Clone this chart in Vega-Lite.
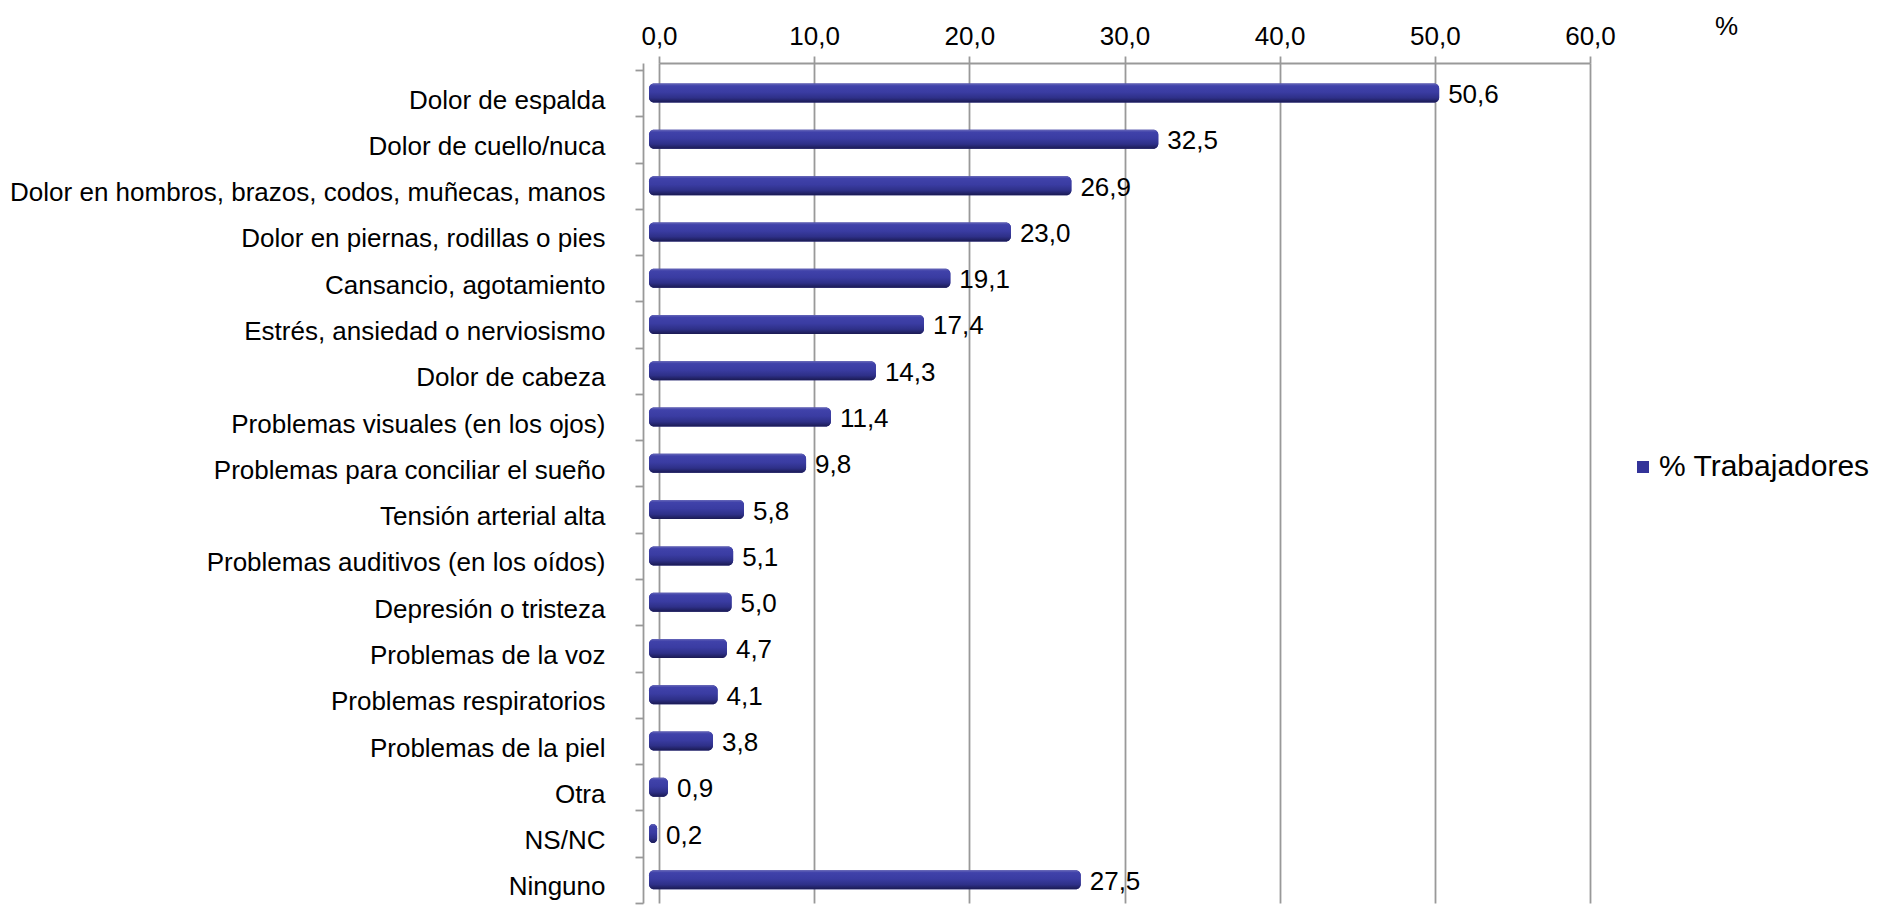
{
  "$schema": "https://vega.github.io/schema/vega-lite/v6.json",
  "width": 931,
  "height": 840,
  "autosize": {"type": "none"},
  "padding": {"left": 659, "top": 63, "right": 287, "bottom": 2},
  "background": "white",
  "config": {
    "view": {"stroke": null},
    "font": "Liberation Sans",
    "locale": {"number": {"decimal": ",", "thousands": ".", "grouping": [3], "currency": ["", " €"]}},
    "legend": {"padding": 0}
  },
  "data": {
    "values": [
      {"sintoma": "Dolor de espalda", "pct": 50.6, "serie": "% Trabajadores"},
      {"sintoma": "Dolor de cuello/nuca", "pct": 32.5, "serie": "% Trabajadores"},
      {"sintoma": "Dolor en hombros, brazos, codos, muñecas, manos", "pct": 26.9, "serie": "% Trabajadores"},
      {"sintoma": "Dolor en piernas, rodillas o pies", "pct": 23.0, "serie": "% Trabajadores"},
      {"sintoma": "Cansancio, agotamiento", "pct": 19.1, "serie": "% Trabajadores"},
      {"sintoma": "Estrés, ansiedad o nerviosismo", "pct": 17.4, "serie": "% Trabajadores"},
      {"sintoma": "Dolor de cabeza", "pct": 14.3, "serie": "% Trabajadores"},
      {"sintoma": "Problemas visuales (en los ojos)", "pct": 11.4, "serie": "% Trabajadores"},
      {"sintoma": "Problemas para conciliar el sueño", "pct": 9.8, "serie": "% Trabajadores"},
      {"sintoma": "Tensión arterial alta", "pct": 5.8, "serie": "% Trabajadores"},
      {"sintoma": "Problemas auditivos (en los oídos)", "pct": 5.1, "serie": "% Trabajadores"},
      {"sintoma": "Depresión o tristeza", "pct": 5.0, "serie": "% Trabajadores"},
      {"sintoma": "Problemas de la voz", "pct": 4.7, "serie": "% Trabajadores"},
      {"sintoma": "Problemas respiratorios", "pct": 4.1, "serie": "% Trabajadores"},
      {"sintoma": "Problemas de la piel", "pct": 3.8, "serie": "% Trabajadores"},
      {"sintoma": "Otra", "pct": 0.9, "serie": "% Trabajadores"},
      {"sintoma": "NS/NC", "pct": 0.2, "serie": "% Trabajadores"},
      {"sintoma": "Ninguno", "pct": 27.5, "serie": "% Trabajadores"}
    ]
  },
  "encoding": {
    "y": {
      "field": "sintoma",
      "type": "nominal",
      "sort": null,
      "scale": {"paddingInner": 0, "paddingOuter": 0.075, "align": 1},
      "axis": {
        "title": null,
        "offset": 16,
        "domainColor": "#999999",
        "domainWidth": 1.8,
        "tickColor": "#999999",
        "tickWidth": 1.8,
        "tickSize": 8,
        "tickBand": "extent",
        "tickOffset": 6,
        "labelOffset": 7,
        "labelFontSize": 26,
        "labelColor": "#000000",
        "labelPadding": 30,
        "labelLimit": 800,
        "grid": false
      }
    },
    "x": {
      "field": "pct",
      "type": "quantitative",
      "scale": {"domain": [0, 60], "nice": false},
      "axis": {
        "orient": "top",
        "values": [0, 10, 20, 30, 40, 50, 60],
        "format": ".1f",
        "grid": true,
        "gridColor": "#999999",
        "gridWidth": 1.8,
        "domainColor": "#999999",
        "domainWidth": 1.8,
        "tickColor": "#999999",
        "tickWidth": 1.8,
        "tickSize": 7,
        "labelFontSize": 26,
        "labelColor": "#000000",
        "labelPadding": 7,
        "labelFlush": false,
        "labelOverlap": false,
        "title": "%",
        "titleFontSize": 26,
        "titleFontWeight": "normal",
        "titleColor": "#000000",
        "titleX": 1067,
        "titleY": -37,
        "titleAlign": "center",
        "titleBaseline": "middle"
      }
    }
  },
  "layer": [
    {
      "mark": {"type": "bar", "size": 19, "xOffset": -5, "x2Offset": -10, "cornerRadius": 5},
      "encoding": {
        "x2": {"datum": 0},
        "color": {
          "field": "serie",
          "type": "nominal",
          "scale": {"range": ["#333399"]},
          "legend": {
            "title": null,
            "orient": "none",
            "legendX": 969,
            "legendY": 389,
            "symbolType": "square",
            "symbolSize": 144,
            "symbolStrokeWidth": 0,
            "labelFontSize": 30,
            "labelColor": "#000000",
            "labelOffset": 1,
            "labelLimit": 400
          }
        }
      }
    },
    {
      "mark": {
        "type": "bar",
        "size": 19,
        "xOffset": -5,
        "x2Offset": -10,
        "cornerRadius": 5,
        "color": {
          "gradient": "linear",
          "x1": 0, "y1": 0, "x2": 0, "y2": 1,
          "stops": [
            {"offset": 0, "color": "#6667b8"},
            {"offset": 0.12, "color": "#4042aa"},
            {"offset": 0.45, "color": "#3a3ca2"},
            {"offset": 0.75, "color": "#2e3088"},
            {"offset": 1, "color": "#1a1a52"}
          ]
        }
      },
      "encoding": {"x2": {"datum": 0}}
    },
    {
      "mark": {"type": "text", "align": "left", "baseline": "middle", "dx": 4, "dy": 2, "fontSize": 26, "color": "#000000"},
      "encoding": {
        "text": {"field": "pct", "type": "quantitative", "format": ".1f"}
      }
    }
  ]
}
